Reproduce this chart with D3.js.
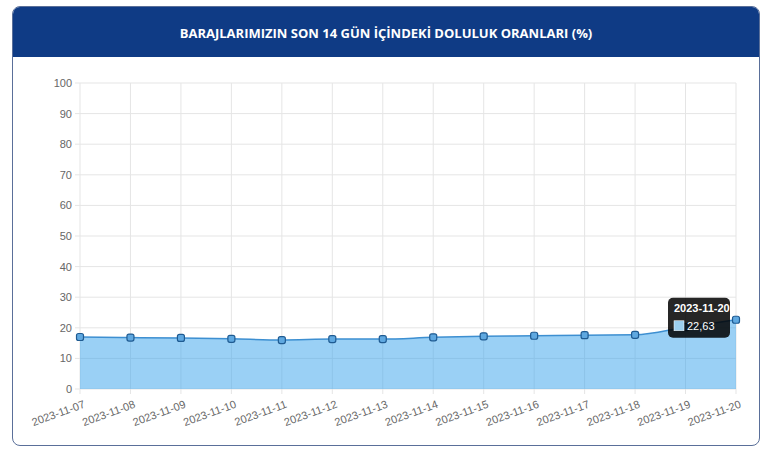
<!DOCTYPE html>
<html><head><meta charset="utf-8">
<script src="https://cdn.jsdelivr.net/npm/d3@7"></script>
<style>
body{margin:0;background:#fff;font-family:"Open Sans",Arial,sans-serif;}
#card{position:absolute;left:12px;top:6px;width:746px;height:438px;border:1px solid #5a6f99;border-radius:8px;overflow:hidden;}
#head{height:50px;background:#0f3b85;color:#fff;font:bold 13px "Open Sans",sans-serif;text-align:center;line-height:52px;}
svg{position:absolute;left:0;top:0;}
</style></head><body>
<div id="card"><div id="head">BARAJLARIMIZIN SON 14 GÜN İÇİNDEKİ DOLULUK ORANLARI (%)</div></div>
<svg id="c" width="770" height="459"></svg>
<script>
const dates = ["2023-11-07","2023-11-08","2023-11-09","2023-11-10","2023-11-11","2023-11-12","2023-11-13","2023-11-14","2023-11-15","2023-11-16","2023-11-17","2023-11-18","2023-11-19","2023-11-20"];
const values = [17.0,16.8,16.7,16.4,16.0,16.3,16.3,16.9,17.2,17.4,17.6,17.7,20.2,22.63];
const yTicks = [0,10,20,30,40,50,60,70,80,90,100];

const svg = d3.select("#c");
const x = d3.scalePoint().domain(dates).range([80,736]);
const y = d3.scaleLinear().domain([0,100]).range([389,83]);

const grid = svg.append("g").attr("stroke","#e5e5e5");
dates.forEach(d=>grid.append("line").attr("x1",x(d)).attr("x2",x(d)).attr("y1",83).attr("y2",394));
yTicks.forEach(t=>grid.append("line").attr("x1",75).attr("x2",736).attr("y1",y(t)).attr("y2",y(t)));

svg.append("g").selectAll("text").data(yTicks).join("text")
  .attr("x",72).attr("y",d=>y(d)+4).attr("text-anchor","end")
  .attr("font-size",11).attr("fill","#666").attr("font-family","Arial, sans-serif").text(d=>d);

svg.append("g").selectAll("text").data(dates).join("text")
  .attr("transform",d=>`translate(${x(d)+3},${400}) rotate(-20)`)
  .attr("text-anchor","end").attr("dy","0.7em")
  .attr("font-size",11).attr("fill","#666").attr("font-family","Arial, sans-serif").text(d=>d);

const data = dates.map((d,i)=>({d,v:values[i]}));
svg.append("path").datum(data)
  .attr("d",d3.area().x(p=>x(p.d)).y0(y(0)).y1(p=>y(p.v)).curve(d3.curveMonotoneX))
  .attr("fill","rgba(54,162,235,0.5)");
svg.append("path").datum(data)
  .attr("d",d3.line().x(p=>x(p.d)).y(p=>y(p.v)).curve(d3.curveMonotoneX))
  .attr("fill","none").attr("stroke","#3d8fd1").attr("stroke-width",1.5);
svg.append("g").selectAll("rect").data(data).join("rect")
  .attr("x",p=>x(p.d)-3.5).attr("y",p=>y(p.v)-3.5).attr("width",7).attr("height",7).attr("rx",2)
  .attr("fill","#5fa8e0").attr("stroke","#1f5b92").attr("stroke-width",1.2);

// tooltip on last point
const last = data[data.length-1];
const tx = x(last.d)-68, ty = y(last.v)-22;
const tt = svg.append("g").attr("transform",`translate(${tx},${ty})`);
tt.append("rect").attr("width",62).attr("height",40).attr("rx",5).attr("fill","rgba(0,0,0,0.85)");
tt.append("text").attr("x",6).attr("y",14).attr("fill","#fff").attr("font-size",11).attr("font-weight","bold").attr("font-family","Arial, sans-serif").text(last.d);
tt.append("rect").attr("x",6).attr("y",23).attr("width",10).attr("height",10).attr("fill","#9ccfef").attr("stroke","#fff").attr("stroke-width",0.5);
tt.append("text").attr("x",19).attr("y",32).attr("fill","#fff").attr("font-size",11).attr("font-family","Arial, sans-serif").text(String(last.v).replace(".",","));
</script></body></html>
